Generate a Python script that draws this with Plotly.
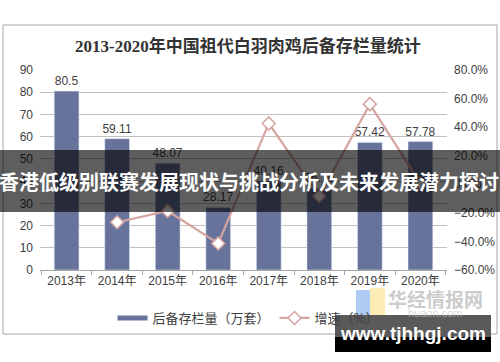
import plotly.graph_objects as go

years = ["2013年", "2014年", "2015年", "2016年", "2017年", "2018年", "2019年", "2020年"]
stock = [80.5, 59.11, 48.07, 28.17, 40.16, 36.79, 57.42, 57.78]
growth = [None, -26.6, -18.7, -41.4, 42.6, -8.4, 56.1, 0.6]
stock_labels = ["80.5", "59.11", "48.07", "28.17", "40.16", "36.79", "57.42", "57.78"]

BAR_C = "#67739a"
LINE_C = "#d6a4a1"
TXT = "#404040"
FONT = "Liberation Sans, Noto Sans CJK SC, sans-serif"
CJK = "Noto Sans CJK SC, sans-serif"

W, H = 500, 362
L, R, T, B = 40, 53, 70, 92
PW, PH = W - L - R, H - T - B


def px(x):
    return (x - L) / PW


def py(y):
    return (H - B - y) / PH


fig = go.Figure()
fig.add_trace(go.Bar(
    x=years, y=stock, text=stock_labels, textposition="outside", constraintext="none",
    textfont=dict(size=12, color=TXT, family=FONT),
    marker=dict(color=BAR_C), width=0.49, showlegend=False, cliponaxis=False,
    name="后备存栏量（万套）",
))
fig.add_trace(go.Scatter(
    x=[None], y=[None], mode="lines", line=dict(color=BAR_C, width=5),
    name="后备存栏量（万套）", showlegend=True,
))
fig.add_trace(go.Scatter(
    x=years, y=growth, yaxis="y2", mode="lines+markers",
    line=dict(color=LINE_C, width=2.2),
    marker=dict(symbol="diamond", size=10, color="white", line=dict(color=LINE_C, width=1.5)),
    name="增速（%）", cliponaxis=False,
))

shapes = [
    dict(type="rect", xref="paper", yref="paper", x0=px(3), x1=px(497), y0=py(334), y1=py(25),
         line=dict(color="#a6a6a6", width=1), fillcolor="rgba(0,0,0,0)", layer="below"),
    # overlay banner
    dict(type="rect", xref="paper", yref="paper", x0=px(0), x1=px(500), y0=py(212), y1=py(150),
         line=dict(width=0), fillcolor="rgba(0,0,0,0.63)", layer="above"),
    # watermark logo blocks
    dict(type="rect", xref="paper", yref="paper", x0=px(356), x1=px(370), y0=py(318), y1=py(290),
         line=dict(width=0), fillcolor="rgba(120,170,240,0.6)", layer="above"),
    dict(type="rect", xref="paper", yref="paper", x0=px(370), x1=px(385), y0=py(316), y1=py(288),
         line=dict(width=0), fillcolor="rgba(250,225,130,0.6)", layer="above"),
    # url box
    dict(type="rect", xref="paper", yref="paper", x0=px(335), x1=px(491), y0=py(352), y1=py(337),
         line=dict(width=0), fillcolor="#000000", layer="above"),
    dict(type="rect", xref="paper", yref="paper", x0=px(335), x1=px(491), y0=py(337), y1=py(315),
         line=dict(width=0), fillcolor="#5a5a5a", layer="above"),
]

annotations = [
    dict(text="<b>2013-2020年中国祖代白羽肉鸡后备存栏量统计</b>", xref="paper", yref="paper",
         x=px(248), y=py(46), showarrow=False, xanchor="center", yanchor="middle",
         font=dict(size=17, color="#333333", family="Liberation Serif, Noto Sans CJK SC, serif")),
    dict(text="<b>香港低级别联赛发展现状与挑战分析及未来发展潜力探讨</b>", xref="paper", yref="paper",
         x=px(249), y=py(181), showarrow=False, xanchor="center", yanchor="middle",
         font=dict(size=20, color="white", family=CJK)),
    dict(text="<b>华经情报网</b>", xref="paper", yref="paper",
         x=px(435), y=py(298), showarrow=False, xanchor="center", yanchor="middle",
         font=dict(size=19, color="rgba(190,190,190,0.8)", family=CJK)),
    dict(text="huaon.com", xref="paper", yref="paper",
         x=px(435), y=py(313), showarrow=False, xanchor="center", yanchor="middle",
         font=dict(size=11, color="rgba(200,200,200,0.7)", family=FONT)),
    dict(text="<b>www.tjhhgj.com</b>", xref="paper", yref="paper",
         x=px(413), y=py(333), showarrow=False, xanchor="center", yanchor="middle",
         font=dict(size=19, color="white", family="Liberation Sans, sans-serif")),
]

fig.update_layout(
    width=W, height=H,
    margin=dict(l=L, r=R, t=T, b=B, pad=0, autoexpand=False),
    paper_bgcolor="white", plot_bgcolor="white",
    font=dict(family=FONT, size=12, color=TXT),
    bargap=0.51,
    xaxis=dict(type="category", showline=True, linecolor="#a6a6a6", linewidth=1,
               ticks="outside", tickson="boundaries", ticklen=4, tickcolor="#a6a6a6",
               showgrid=False, tickfont=dict(size=12, color=TXT, family=FONT), automargin=False),
    yaxis=dict(range=[0, 90], dtick=10, showgrid=True, gridcolor="#c0c0c0", gridwidth=1,
               zeroline=False, showline=False, ticks="", tickfont=dict(size=12, color=TXT),
               ticklabelstandoff=6, automargin=False),
    yaxis2=dict(range=[-60, 80], dtick=20, overlaying="y", side="right", showgrid=False,
                zeroline=False, showline=False, tickformat=".1f", ticksuffix="%",
                tickfont=dict(size=12, color=TXT), ticklabelstandoff=6, automargin=False),
    legend=dict(orientation="h", x=px(248), y=py(318), xanchor="center", yanchor="middle",
                font=dict(size=13, color=TXT, family=CJK), itemwidth=30,
                bgcolor="rgba(0,0,0,0)", tracegroupgap=0),
    shapes=shapes,
    annotations=annotations,
)

fig.write_html("out.html", config={"displayModeBar": False},
               post_script="document.body.style.margin='0';document.body.style.overflow='hidden';")
